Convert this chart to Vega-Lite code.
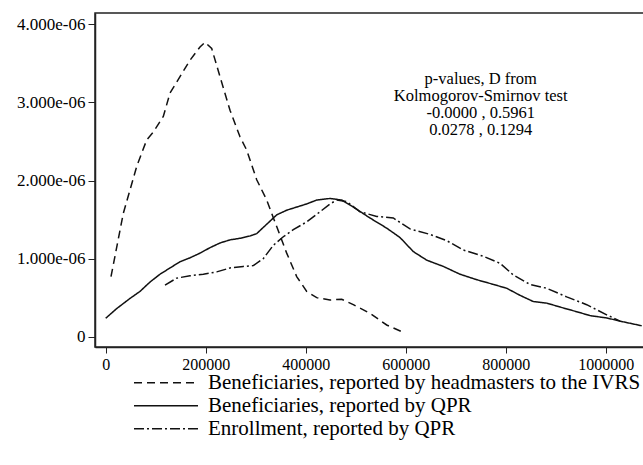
{
  "$schema": "https://vega.github.io/schema/vega-lite/v6.json",
  "width": 549,
  "height": 334,
  "padding": {"left": 95, "top": 13, "right": 0, "bottom": 118},
  "autosize": {"type": "none"},
  "background": "white",
  "config": {
    "font": "Liberation Serif",
    "view": {"stroke": "#222", "strokeWidth": 1.5},
    "axis": {
      "grid": false,
      "domainColor": "#222",
      "domainWidth": 1.5,
      "tickColor": "#222",
      "tickWidth": 1,
      "labelFont": "Liberation Serif",
      "labelFontSize": 17,
      "labelColor": "#000",
      "title": null
    }
  },
  "datasets": {
    "curves": [
      {"series": "IVRS", "x": 10600, "d": 0.768e-6},
      {"series": "IVRS", "x": 35200, "d": 1.58e-6},
      {"series": "IVRS", "x": 62000, "d": 2.18e-6},
      {"series": "IVRS", "x": 82000, "d": 2.52e-6},
      {"series": "IVRS", "x": 95200, "d": 2.62e-6},
      {"series": "IVRS", "x": 115200, "d": 2.82e-6},
      {"series": "IVRS", "x": 128600, "d": 3.12e-6},
      {"series": "IVRS", "x": 148600, "d": 3.33e-6},
      {"series": "IVRS", "x": 168600, "d": 3.54e-6},
      {"series": "IVRS", "x": 188600, "d": 3.71e-6},
      {"series": "IVRS", "x": 198600, "d": 3.77e-6},
      {"series": "IVRS", "x": 212000, "d": 3.69e-6},
      {"series": "IVRS", "x": 228600, "d": 3.33e-6},
      {"series": "IVRS", "x": 248600, "d": 2.90e-6},
      {"series": "IVRS", "x": 268600, "d": 2.56e-6},
      {"series": "IVRS", "x": 282000, "d": 2.39e-6},
      {"series": "IVRS", "x": 302000, "d": 2.01e-6},
      {"series": "IVRS", "x": 322000, "d": 1.75e-6},
      {"series": "IVRS", "x": 342000, "d": 1.41e-6},
      {"series": "IVRS", "x": 362000, "d": 1.07e-6},
      {"series": "IVRS", "x": 382000, "d": 0.77e-6},
      {"series": "IVRS", "x": 402000, "d": 0.58e-6},
      {"series": "IVRS", "x": 422000, "d": 0.50e-6},
      {"series": "IVRS", "x": 448600, "d": 0.47e-6},
      {"series": "IVRS", "x": 472000, "d": 0.48e-6},
      {"series": "IVRS", "x": 495200, "d": 0.41e-6},
      {"series": "IVRS", "x": 528600, "d": 0.30e-6},
      {"series": "IVRS", "x": 562000, "d": 0.15e-6},
      {"series": "IVRS", "x": 592000, "d": 0.064e-6},
      {"series": "QPRB", "x": 0, "d": 0.236e-6},
      {"series": "QPRB", "x": 22000, "d": 0.36e-6},
      {"series": "QPRB", "x": 48600, "d": 0.49e-6},
      {"series": "QPRB", "x": 68600, "d": 0.58e-6},
      {"series": "QPRB", "x": 88600, "d": 0.70e-6},
      {"series": "QPRB", "x": 108600, "d": 0.80e-6},
      {"series": "QPRB", "x": 128600, "d": 0.88e-6},
      {"series": "QPRB", "x": 148600, "d": 0.96e-6},
      {"series": "QPRB", "x": 168600, "d": 1.01e-6},
      {"series": "QPRB", "x": 188600, "d": 1.07e-6},
      {"series": "QPRB", "x": 208600, "d": 1.14e-6},
      {"series": "QPRB", "x": 228600, "d": 1.20e-6},
      {"series": "QPRB", "x": 248600, "d": 1.24e-6},
      {"series": "QPRB", "x": 268600, "d": 1.26e-6},
      {"series": "QPRB", "x": 288600, "d": 1.29e-6},
      {"series": "QPRB", "x": 302000, "d": 1.32e-6},
      {"series": "QPRB", "x": 322000, "d": 1.44e-6},
      {"series": "QPRB", "x": 342000, "d": 1.56e-6},
      {"series": "QPRB", "x": 362000, "d": 1.62e-6},
      {"series": "QPRB", "x": 382000, "d": 1.66e-6},
      {"series": "QPRB", "x": 402000, "d": 1.70e-6},
      {"series": "QPRB", "x": 422000, "d": 1.75e-6},
      {"series": "QPRB", "x": 448600, "d": 1.77e-6},
      {"series": "QPRB", "x": 472000, "d": 1.75e-6},
      {"series": "QPRB", "x": 495200, "d": 1.66e-6},
      {"series": "QPRB", "x": 528600, "d": 1.52e-6},
      {"series": "QPRB", "x": 562000, "d": 1.39e-6},
      {"series": "QPRB", "x": 588600, "d": 1.27e-6},
      {"series": "QPRB", "x": 615200, "d": 1.09e-6},
      {"series": "QPRB", "x": 642000, "d": 0.98e-6},
      {"series": "QPRB", "x": 675200, "d": 0.90e-6},
      {"series": "QPRB", "x": 708600, "d": 0.80e-6},
      {"series": "QPRB", "x": 742000, "d": 0.73e-6},
      {"series": "QPRB", "x": 775200, "d": 0.67e-6},
      {"series": "QPRB", "x": 802000, "d": 0.62e-6},
      {"series": "QPRB", "x": 828600, "d": 0.53e-6},
      {"series": "QPRB", "x": 855200, "d": 0.45e-6},
      {"series": "QPRB", "x": 882000, "d": 0.43e-6},
      {"series": "QPRB", "x": 908600, "d": 0.38e-6},
      {"series": "QPRB", "x": 942000, "d": 0.32e-6},
      {"series": "QPRB", "x": 968600, "d": 0.27e-6},
      {"series": "QPRB", "x": 1002000, "d": 0.24e-6},
      {"series": "QPRB", "x": 1035200, "d": 0.19e-6},
      {"series": "QPRB", "x": 1072000, "d": 0.14e-6},
      {"series": "ENR", "x": 118600, "d": 0.66e-6},
      {"series": "ENR", "x": 142000, "d": 0.75e-6},
      {"series": "ENR", "x": 168600, "d": 0.78e-6},
      {"series": "ENR", "x": 195200, "d": 0.80e-6},
      {"series": "ENR", "x": 222000, "d": 0.83e-6},
      {"series": "ENR", "x": 248600, "d": 0.88e-6},
      {"series": "ENR", "x": 275200, "d": 0.90e-6},
      {"series": "ENR", "x": 295200, "d": 0.91e-6},
      {"series": "ENR", "x": 315200, "d": 1.00e-6},
      {"series": "ENR", "x": 335200, "d": 1.17e-6},
      {"series": "ENR", "x": 355200, "d": 1.28e-6},
      {"series": "ENR", "x": 375200, "d": 1.37e-6},
      {"series": "ENR", "x": 402000, "d": 1.47e-6},
      {"series": "ENR", "x": 428600, "d": 1.60e-6},
      {"series": "ENR", "x": 448600, "d": 1.70e-6},
      {"series": "ENR", "x": 462000, "d": 1.75e-6},
      {"series": "ENR", "x": 482000, "d": 1.73e-6},
      {"series": "ENR", "x": 508600, "d": 1.60e-6},
      {"series": "ENR", "x": 542000, "d": 1.54e-6},
      {"series": "ENR", "x": 575200, "d": 1.52e-6},
      {"series": "ENR", "x": 608600, "d": 1.38e-6},
      {"series": "ENR", "x": 648600, "d": 1.31e-6},
      {"series": "ENR", "x": 682000, "d": 1.23e-6},
      {"series": "ENR", "x": 715200, "d": 1.11e-6},
      {"series": "ENR", "x": 755200, "d": 1.03e-6},
      {"series": "ENR", "x": 788600, "d": 0.94e-6},
      {"series": "ENR", "x": 815200, "d": 0.79e-6},
      {"series": "ENR", "x": 848600, "d": 0.67e-6},
      {"series": "ENR", "x": 882000, "d": 0.62e-6},
      {"series": "ENR", "x": 922000, "d": 0.51e-6},
      {"series": "ENR", "x": 962000, "d": 0.41e-6},
      {"series": "ENR", "x": 1002000, "d": 0.28e-6},
      {"series": "ENR", "x": 1028600, "d": 0.20e-6}
    ],
    "note": [
      {"x": 750000, "d": 3.23e-6, "text": ["p-values, D from", "Kolmogorov-Smirnov test", "-0.0000 , 0.5961", "0.0278 , 0.1294"]}
    ]
  },
  "layer": [
    {
      "data": {"name": "curves"},
      "mark": {"type": "line", "color": "#111", "strokeWidth": 1.5, "clip": true},
      "encoding": {
        "x": {
          "field": "x", "type": "quantitative",
          "scale": {"domain": [-21400, 1076600], "nice": false, "zero": false},
          "axis": {"values": [0, 200000, 400000, 600000, 800000, 1000000], "format": "d", "tickSize": 6, "labelPadding": 3, "labelFontSize": 16, "labelFlush": false, "labelOverlap": false}
        },
        "y": {
          "field": "d", "type": "quantitative",
          "scale": {"domain": [-0.1319e-6, 4.145e-6], "nice": false, "zero": false},
          "axis": {"values": [0, 1e-6, 2e-6, 3e-6, 4e-6], "labelExpr": "datum.value == 0 ? '0' : replace(format(datum.value, '.3e'), 'e-6', 'e-06')", "tickSize": 7, "labelPadding": 3, "labelFlush": false, "labelOverlap": false}
        },
        "detail": {"field": "series"},
        "strokeDash": {
          "field": "series", "type": "nominal",
          "scale": {
            "domain": ["IVRS", "QPRB", "ENR"],
            "range": [[8, 5], [1, 0], [10, 3, 2, 3]]
          },
          "legend": {
            "orient": "none",
            "legendX": 38,
            "legendY": 359,
            "title": null,
            "direction": "vertical",
            "symbolType": "stroke",
            "symbolSize": 4096,
            "symbolStrokeColor": "#111",
            "symbolStrokeWidth": 1.5,
            "clipHeight": 21.5,
            "labelFont": "Liberation Serif",
            "labelFontSize": 21,
            "labelColor": "#000",
            "labelOffset": 9,
            "rowPadding": 0,
            "labelLimit": 600,
            "labelExpr": "datum.value == 'IVRS' ? 'Beneficiaries, reported by headmasters to the IVRS' : datum.value == 'QPRB' ? 'Beneficiaries, reported by QPR' : 'Enrollment, reported by QPR'"
          }
        }
      }
    },
    {
      "data": {"name": "note"},
      "mark": {"type": "text", "align": "center", "baseline": "alphabetic", "fontSize": 16.5, "lineHeight": 16.7, "font": "Liberation Serif", "color": "#000"},
      "encoding": {
        "x": {"field": "x", "type": "quantitative"},
        "y": {"field": "d", "type": "quantitative"},
        "text": {"field": "text"}
      }
    }
  ]
}
